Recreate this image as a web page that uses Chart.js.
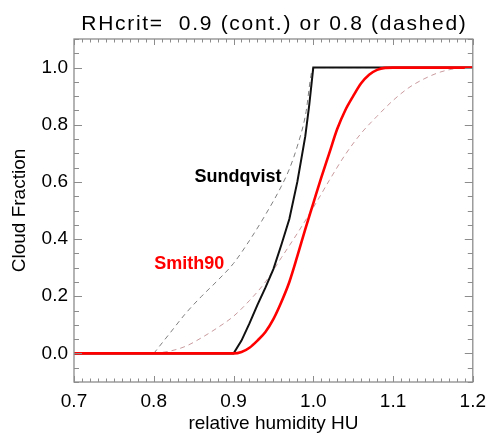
<!DOCTYPE html>
<html>
<head>
<meta charset="utf-8">
<script src="https://cdn.jsdelivr.net/npm/chart.js@4.4.1/dist/chart.umd.min.js"></script>
<style>
html, body { margin: 0; padding: 0; background: #fff; }
</style>
</head>
<body>
<canvas id="canevas" width="494" height="434"></canvas>
<script>
// humidity grid and cloud fraction
var sundHU09 = [0.7, 0.9, 0.91, 0.92, 0.93, 0.94, 0.95, 0.96, 0.97, 0.98, 0.985, 0.99, 0.995, 1.0, 1.2];
var sundCF09 = [0, 0, 0.045, 0.105, 0.17, 0.23, 0.295, 0.38, 0.47, 0.6, 0.68, 0.76, 0.87, 1.0, 1.0];

var smithHU09 = [0.7, 0.9, 0.91, 0.92, 0.93, 0.94, 0.95, 0.96, 0.97, 0.98, 0.99, 1.0, 1.01, 1.02, 1.03, 1.04, 1.05, 1.06, 1.07, 1.08, 1.09, 1.1, 1.2];
var smithCF09 = [0, 0, 0.005, 0.02, 0.045, 0.075, 0.12, 0.18, 0.25, 0.34, 0.435, 0.525, 0.615, 0.7, 0.785, 0.85, 0.9, 0.945, 0.975, 0.992, 0.999, 1.0, 1.0];

var sundHU08 = [0.8, 0.82, 0.84, 0.86, 0.88, 0.9, 0.92, 0.94, 0.96, 0.97, 0.98, 0.99, 1.0, 1.2];
var sundCF08 = [0, 0.07, 0.14, 0.2, 0.255, 0.315, 0.395, 0.485, 0.585, 0.645, 0.725, 0.83, 1.0, 1.0];

var smithHU08 = [0.8, 0.82, 0.84, 0.86, 0.88, 0.9, 0.92, 0.94, 0.96, 0.98, 1.0, 1.02, 1.04, 1.06, 1.08, 1.1, 1.12, 1.14, 1.16, 1.18, 1.2];
var smithCF08 = [0, 0.008, 0.025, 0.055, 0.09, 0.13, 0.185, 0.25, 0.335, 0.42, 0.51, 0.605, 0.695, 0.77, 0.83, 0.885, 0.93, 0.962, 0.985, 0.997, 1.0];

var xTickValues = [0.7, 0.8, 0.9, 1.0, 1.1, 1.2];
var yTickValues = [0.0, 0.2, 0.4, 0.6, 0.8, 1.0];

var titleText = 'RHcrit=  0.9 (cont.) or 0.8 (dashed)';
var curveLabels = [
	{ text: 'Sundqvist', x: 0.851, y: 0.60, color: '#000' },
	{ text: 'Smith90', x: 0.8005, y: 0.297, color: '#ff0000' }
];

function pts(xs, ys) {
	return xs.map(function (v, i) { return { x: v, y: ys[i] }; });
}

var fontFam = "'Liberation Sans', Arial, Helvetica, sans-serif";
var axisGrey = '#8c8c8c';

// frame with inward ticks on all four sides, plus title and curve labels
var idlFrame = {
	id: 'idlFrame',
	afterDatasetsDraw: function (chart) {
		var ctx = chart.ctx, a = chart.chartArea;
		var xs = chart.scales.x, ys = chart.scales.y;
		ctx.save();
		ctx.strokeStyle = axisGrey;
		ctx.lineWidth = 1.3;
		ctx.strokeRect(a.left, a.top, a.right - a.left, a.bottom - a.top);
		ctx.lineWidth = 1;
		ctx.beginPath();
		for (var i = 0; i <= 50; i++) {
			var px = Math.round(xs.getPixelForValue(0.7 + i * 0.01)) + 0.5;
			var len = (i % 10 === 0) ? 6 : 3.5;
			ctx.moveTo(px, a.bottom); ctx.lineTo(px, a.bottom - len);
			ctx.moveTo(px, a.top); ctx.lineTo(px, a.top + len);
		}
		for (var j = 0; j <= 24; j++) {
			var py = Math.round(ys.getPixelForValue(-0.1 + j * 0.05)) + 0.5;
			var ylen = (j >= 2 && (j - 2) % 4 === 0) ? 8 : 5;
			ctx.moveTo(a.left, py); ctx.lineTo(a.left + ylen, py);
			ctx.moveTo(a.right, py); ctx.lineTo(a.right - ylen, py);
		}
		ctx.stroke();
		ctx.restore();
	},
	afterDraw: function (chart) {
		var ctx = chart.ctx, a = chart.chartArea;
		var xs = chart.scales.x, ys = chart.scales.y;
		ctx.save();
		ctx.fillStyle = '#000';
		ctx.font = '21px ' + fontFam;
		ctx.textAlign = 'center';
		ctx.textBaseline = 'alphabetic';
		ctx.letterSpacing = '1.7px';
		ctx.fillText(titleText, (a.left + a.right) / 2 + 1, 30);
		ctx.letterSpacing = '0px';
		ctx.textAlign = 'left';
		ctx.font = 'bold 18px ' + fontFam;
		curveLabels.forEach(function (l) {
			ctx.fillStyle = l.color;
			ctx.fillText(l.text, xs.getPixelForValue(l.x), ys.getPixelForValue(l.y));
		});
		ctx.restore();
	}
};

var c = document.getElementById('canevas');
var chart = new Chart(c.getContext('2d'), {
	type: 'line',
	data: {
		datasets: [
			{ data: pts(smithHU09, smithCF09), borderColor: '#ff0000', borderWidth: 2.6, cubicInterpolationMode: 'monotone' },
			{ data: pts(sundHU09, sundCF09), borderColor: '#111111', borderWidth: 2, tension: 0 },
			{ data: pts(sundHU08, sundCF08), borderColor: '#7f7f7f', borderWidth: 1, borderDash: [5, 4], cubicInterpolationMode: 'monotone' },
			{ data: pts(smithHU08, smithCF08), borderColor: '#c99a9e', borderWidth: 1, borderDash: [5, 4], cubicInterpolationMode: 'monotone' }
		]
	},
	options: {
		responsive: false,
		animation: false,
		devicePixelRatio: 1,
		layout: { padding: { top: 39, right: 17, left: 0, bottom: 0 } },
		elements: { point: { radius: 0 } },
		plugins: { legend: { display: false }, title: { display: false }, tooltip: { enabled: false } },
		scales: {
			x: {
				type: 'linear', min: 0.7, max: 1.2,
				afterFit: function (s) { s.height = 52; },
				afterBuildTicks: function (s) { s.ticks = xTickValues.map(function (v) { return { value: v }; }); },
				grid: { display: false, drawTicks: false },
				border: { display: false },
				ticks: { padding: 8, color: '#000', font: { family: fontFam, size: 19 }, maxRotation: 0,
					callback: function (v) { return Number(v).toFixed(1); } },
				title: { display: true, text: 'relative humidity HU', color: '#000',
					font: { family: fontFam, size: 19, lineHeight: 1 }, padding: { top: 0, bottom: 0.5 } }
			},
			y: {
				min: -0.1, max: 1.1,
				afterFit: function (s) { s.width = 74; },
				afterBuildTicks: function (s) { s.ticks = yTickValues.map(function (v) { return { value: v }; }); },
				grid: { display: false, drawTicks: false },
				border: { display: false },
				ticks: { padding: 6, color: '#000', font: { family: fontFam, size: 19 },
					callback: function (v) { return Number(v).toFixed(1); } },
				title: { display: true, text: 'Cloud Fraction', color: '#000',
					font: { family: fontFam, size: 19, lineHeight: 1 }, padding: { top: 10.5, bottom: 0 } }
			}
		}
	},
	plugins: [idlFrame]
});
</script>
</body>
</html>
